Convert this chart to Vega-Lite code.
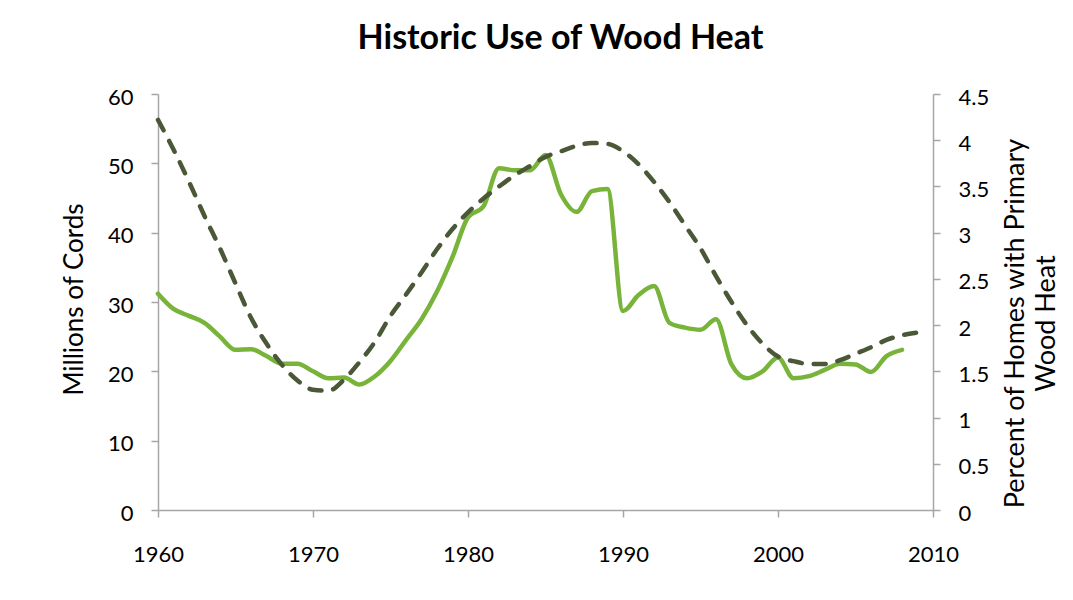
{
  "$schema": "https://vega.github.io/schema/vega-lite/v6.json",
  "width": 775,
  "height": 416,
  "autosize": {"type": "none"},
  "padding": {"left": 158, "top": 94, "right": 140, "bottom": 90},
  "background": "white",
  "title": {
    "text": "Historic Use of Wood Heat",
    "font": "Lato",
    "fontSize": 34,
    "fontWeight": "bold",
    "color": "black",
    "anchor": "middle",
    "frame": "group",
    "dx": 15,
    "baseline": "alphabetic",
    "offset": 3
  },
  "config": {
    "view": {"stroke": null},
    "axis": {
      "labelFont": "Lato",
      "labelFontSize": 22,
      "labelColor": "black",
      "titleFont": "Lato",
      "titleFontSize": 26,
      "titleFontWeight": "normal",
      "titleColor": "black",
      "domainColor": "#a6a6a6",
      "domainWidth": 1.5,
      "tickColor": "#a6a6a6",
      "tickWidth": 1.5,
      "tickSize": 7,
      "grid": false,
      "labelFlush": false
    }
  },
  "data": {
    "values": [
      {"year": 1960, "cords": 31.2, "percent": 4.22},
      {"year": 1961, "cords": 29.0, "percent": 3.9},
      {"year": 1962, "cords": 28.0, "percent": 3.55},
      {"year": 1963, "cords": 27.0, "percent": 3.18},
      {"year": 1964, "cords": 25.0, "percent": 2.83},
      {"year": 1965, "cords": 23.1, "percent": 2.45},
      {"year": 1966, "cords": 23.2, "percent": 2.08},
      {"year": 1967, "cords": 22.2, "percent": 1.8},
      {"year": 1968, "cords": 21.1, "percent": 1.57},
      {"year": 1969, "cords": 21.1, "percent": 1.4},
      {"year": 1970, "cords": 20.0, "percent": 1.3},
      {"year": 1971, "cords": 19.0, "percent": 1.29},
      {"year": 1972, "cords": 19.1, "percent": 1.41},
      {"year": 1973, "cords": 18.1, "percent": 1.6},
      {"year": 1974, "cords": 19.3, "percent": 1.82},
      {"year": 1975, "cords": 21.5, "percent": 2.1},
      {"year": 1976, "cords": 24.5, "percent": 2.33},
      {"year": 1977, "cords": 27.5, "percent": 2.57},
      {"year": 1978, "cords": 31.5, "percent": 2.82},
      {"year": 1979, "cords": 36.5, "percent": 3.04},
      {"year": 1980, "cords": 42.2, "percent": 3.22},
      {"year": 1981, "cords": 43.8, "percent": 3.37},
      {"year": 1982, "cords": 49.3, "percent": 3.5},
      {"year": 1983, "cords": 49.0, "percent": 3.62},
      {"year": 1984, "cords": 49.0, "percent": 3.72},
      {"year": 1985, "cords": 51.2, "percent": 3.82},
      {"year": 1986, "cords": 45.5, "percent": 3.88},
      {"year": 1987, "cords": 43.0, "percent": 3.94},
      {"year": 1988, "cords": 46.0, "percent": 3.97},
      {"year": 1989, "cords": 46.3, "percent": 3.96},
      {"year": 1990, "cords": 28.7, "percent": 3.88},
      {"year": 1991, "cords": 31.0, "percent": 3.74},
      {"year": 1992, "cords": 32.3, "percent": 3.55},
      {"year": 1993, "cords": 27.0, "percent": 3.33},
      {"year": 1994, "cords": 26.3, "percent": 3.08},
      {"year": 1995, "cords": 26.0, "percent": 2.83},
      {"year": 1996, "cords": 27.5, "percent": 2.53},
      {"year": 1997, "cords": 21.0, "percent": 2.25},
      {"year": 1998, "cords": 19.0, "percent": 2.0},
      {"year": 1999, "cords": 20.0, "percent": 1.8},
      {"year": 2000, "cords": 22.0, "percent": 1.66},
      {"year": 2001, "cords": 19.0, "percent": 1.61},
      {"year": 2002, "cords": 19.3, "percent": 1.58},
      {"year": 2003, "cords": 20.2, "percent": 1.58},
      {"year": 2004, "cords": 21.1, "percent": 1.62},
      {"year": 2005, "cords": 21.0, "percent": 1.69},
      {"year": 2006, "cords": 19.9, "percent": 1.76},
      {"year": 2007, "cords": 22.2, "percent": 1.84},
      {"year": 2008, "cords": 23.1, "percent": 1.89},
      {"year": 2009, "cords": null, "percent": 1.92}
    ]
  },
  "encoding": {
    "x": {
      "field": "year",
      "type": "quantitative",
      "scale": {"domain": [1960, 2010], "nice": false, "zero": false},
      "axis": {
        "title": null,
        "format": "d",
        "values": [1960, 1970, 1980, 1990, 2000, 2010],
        "labelBaseline": "middle",
        "labelPadding": 37
      }
    }
  },
  "layer": [
    {
      "mark": {"type": "line", "color": "#78b43a", "strokeWidth": 4.5, "interpolate": "monotone", "strokeCap": "round"},
      "transform": [{"filter": "datum.cords != null"}],
      "encoding": {
        "y": {
          "field": "cords",
          "type": "quantitative",
          "scale": {"domain": [0, 60], "nice": false},
          "axis": {
            "orient": "left",
            "values": [0, 10, 20, 30, 40, 50, 60],
            "title": "Millions of Cords",
            "titleAngle": -90,
            "titleX": -84,
            "titleY": 205,
            "titleAlign": "center",
            "titleBaseline": "middle",
            "labelPadding": 18,
            "labelOffset": 3
          }
        }
      }
    },
    {
      "mark": {"type": "line", "color": "#4b5838", "strokeWidth": 4.5, "interpolate": "monotone", "strokeDash": [12, 12], "strokeCap": "round"},
      "encoding": {
        "y": {
          "field": "percent",
          "type": "quantitative",
          "scale": {"domain": [0, 4.5], "nice": false},
          "axis": {
            "orient": "right",
            "values": [0, 0.5, 1, 1.5, 2, 2.5, 3, 3.5, 4, 4.5],
            "format": "~g",
            "title": ["Percent of Homes with Primary", "Wood Heat"],
            "titleAngle": -90,
            "titleX": 82,
            "titleY": 229,
            "titleAlign": "center",
            "titleBaseline": "middle",
            "titleFontSize": 27,
            "titleLineHeight": 31,
            "labelPadding": 18,
            "labelOffset": 3
          }
        }
      }
    }
  ],
  "resolve": {"scale": {"y": "independent"}}
}
